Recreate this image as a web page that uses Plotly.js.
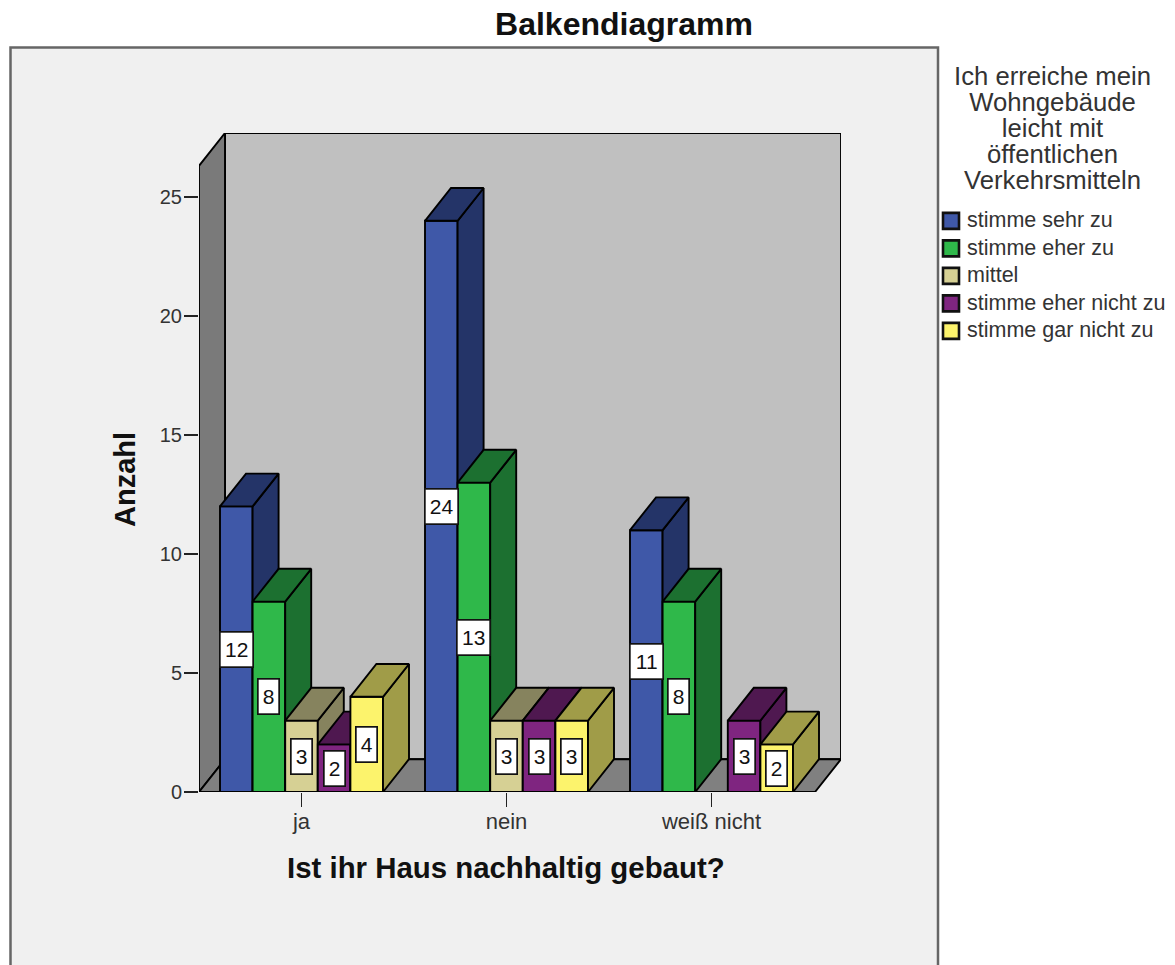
<!DOCTYPE html>
<html>
<head>
<meta charset="utf-8">
<script src="https://cdn.plot.ly/plotly-3.0.1.min.js"></script>
<style>html,body{margin:0;padding:0;background:#fff;overflow:hidden}</style>
</head>
<body>
<div id="chart" style="width:1175px;height:965px"></div>
<script>
// Counts per answer to the building question, one list per transport answer
const categories = ['ja', 'nein', 'weiß nicht'];
const seriesNames = ['stimme sehr zu', 'stimme eher zu', 'mittel', 'stimme eher nicht zu', 'stimme gar nicht zu'];
const sehrZu = [12, 24, 11];
const eherZu = [8, 13, 8];
const mittel = [3, 3, null];
const eherNicht = [2, 3, 3];
const garNicht = [4, 3, 2];
const yTicks = [0, 5, 10, 15, 20, 25];

const frontColors = ['#3f58a8', '#2fb84a', '#d6d094', '#7f2580', '#fcf36c'];
const sideColors = ['#243468', '#1c7030', '#86835e', '#4f1850', '#a09c48'];

const allSeries = [sehrZu, eherZu, mittel, eherNicht, garNicht];

// Plot area in page pixels; it holds the whole box including its depth
const L = 199, R = 841, T = 133, B = 792, W = 1175, H = 965;
const pxPerBar = 32.6, pxPerCount = 23.8;
const xMax = (R - L) / pxPerBar, yMax = (B - T) / pxPerCount;
const depthX = 26 / pxPerBar, depthY = 32.8 / pxPerCount;
const firstBar = 21 / pxPerBar, groupStep = 205 / pxPerBar;

const outline = {color: '#000', width: 1.9};
const face = (xs, ys, fill, name) => ({
  type: 'scatter', mode: 'lines', x: xs, y: ys, fill: 'toself', fillcolor: fill,
  line: outline, showlegend: false, hoverinfo: 'skip', name: name, cliponaxis: false
});

const traces = [];
// Walls and floor of the box
traces.push(face([depthX, xMax, xMax, depthX, depthX], [depthY, depthY, yMax, yMax, depthY], '#c0c0c0', 'Rückwand'));
traces.push(face([0, depthX, depthX, 0, 0], [0, depthY, yMax, yMax - depthY, 0], '#7a7a7a', 'Seitenwand'));
traces.push(face([0, xMax - depthX, xMax, depthX, 0], [0, 0, depthY, depthY, 0], '#808080', 'Boden'));

// Bars are painted left to right so nearer faces cover their neighbours
const valueLabels = [];
categories.forEach((cat, g) => {
  allSeries.forEach((values, s) => {
    const v = values[g];
    if (v === null) return;
    const x0 = firstBar + g * groupStep + s, x1 = x0 + 1;
    traces.push(face([x0, x1, x1, x0, x0], [0, 0, v, v, 0], frontColors[s], seriesNames[s]));
    traces.push(face([x1, x1 + depthX, x1 + depthX, x1, x1], [0, depthY, v + depthY, v, 0], sideColors[s], seriesNames[s]));
    traces.push(face([x0, x1, x1 + depthX, x0 + depthX, x0], [v, v, v + depthY, v + depthY, v], sideColors[s], seriesNames[s]));
    valueLabels.push({
      x: (x0 + x1) / 2, y: v / 2, xref: 'x', yref: 'y', text: String(v), showarrow: false,
      width: String(v).length > 1 ? 32 : 20, height: 34, bgcolor: '#fff',
      bordercolor: '#111', borderwidth: 1.7, borderpad: 0,
      font: {family: 'Liberation Sans', size: 21, color: '#111'}
    });
  });
});

// Legend entries
seriesNames.forEach((name, s) => {
  traces.push({
    type: 'scatter', mode: 'markers', x: [null], y: [null],
    name: '<span style="font-size:21.5px">' + name + '</span>',
    legendgroup: 'g' + s,
    marker: {symbol: 'square', size: 16, color: frontColors[s], line: {color: '#111', width: 2.6}},
    hoverinfo: 'skip'
  });
});

const px = x => (x - L) / (R - L);
const py = y => (B - y) / (B - T);

const titleLines = ['Ich erreiche mein', 'Wohngebäude', 'leicht mit', 'öffentlichen', 'Verkehrsmitteln'];

const layout = {
  width: W, height: H,
  margin: {l: L, r: W - R, t: T, b: H - B, pad: 0, autoexpand: false},
  paper_bgcolor: '#fff', plot_bgcolor: 'rgba(0,0,0,0)',
  showlegend: true, hovermode: false,
  title: {
    text: '<b>Balkendiagramm</b>', x: 624 / W, xref: 'container', xanchor: 'center',
    y: 1 - 24 / H, yref: 'container', yanchor: 'middle',
    font: {family: 'Liberation Sans', size: 32, color: '#111'}
  },
  xaxis: {
    range: [0, xMax], showgrid: false, zeroline: false, showline: false,
    tickmode: 'array',
    tickvals: categories.map((c, g) => firstBar + g * groupStep + 2.5),
    ticktext: categories,
    ticks: 'outside', ticklen: 14, tickwidth: 1.8, tickcolor: '#222',
    ticklabelstandoff: -4,
    tickfont: {family: 'Liberation Sans', size: 22, color: '#333'}
  },
  yaxis: {
    range: [0, yMax], showgrid: false, zeroline: false, showline: false,
    tickmode: 'array', tickvals: yTicks,
    ticks: 'outside', ticklen: 14, tickwidth: 1.8, tickcolor: '#222',
    ticklabelstandoff: -2,
    tickfont: {family: 'Liberation Sans', size: 20, color: '#333'}
  },
  legend: {
    x: px(927), xanchor: 'left', y: py(204), yanchor: 'top',
    font: {family: 'Liberation Sans', size: 16, color: '#333'},
    tracegroupgap: 3.7, bgcolor: 'rgba(0,0,0,0)', itemclick: false, itemdoubleclick: false
  },
  shapes: [{
    type: 'rect', layer: 'below', xref: 'paper', yref: 'paper',
    x0: px(10.5), x1: px(938), y0: py(1020), y1: py(47.5),
    fillcolor: '#f0f0f0', line: {color: '#666', width: 2.5}
  }],
  annotations: valueLabels.concat([{
    // Legend heading
    xref: 'paper', yref: 'paper', x: px(1052), y: py(59.5), xanchor: 'center', yanchor: 'top',
    align: 'center', showarrow: false,
    text: titleLines.map(l => '<span style="font-size:25.7px">' + l + '</span>').join('<br>'),
    font: {family: 'Liberation Sans', size: 20, color: '#333'}
  }, {
    // Axis titles sit on the front plane of the box, not on the centre of the full plot area
    xref: 'paper', yref: 'paper', x: px(505.5), y: py(867), xanchor: 'center', yanchor: 'middle',
    showarrow: false, text: '<b>Ist ihr Haus nachhaltig gebaut?</b>',
    font: {family: 'Liberation Sans', size: 29.4, color: '#111'}
  }, {
    xref: 'paper', yref: 'paper', x: px(125), y: py(480), xanchor: 'center', yanchor: 'middle',
    showarrow: false, textangle: -90, text: '<b>Anzahl</b>',
    font: {family: 'Liberation Sans', size: 29, color: '#111'}
  }])
};

Plotly.newPlot('chart', traces, layout, {displayModeBar: false, staticPlot: true}).then(gd => {
  // Keep the swatches clear of the panel border and close to their text
  gd.querySelectorAll('.legend .legendsymbols').forEach(el => el.setAttribute('transform', 'translate(4,0)'));
});
</script>
</body>
</html>
